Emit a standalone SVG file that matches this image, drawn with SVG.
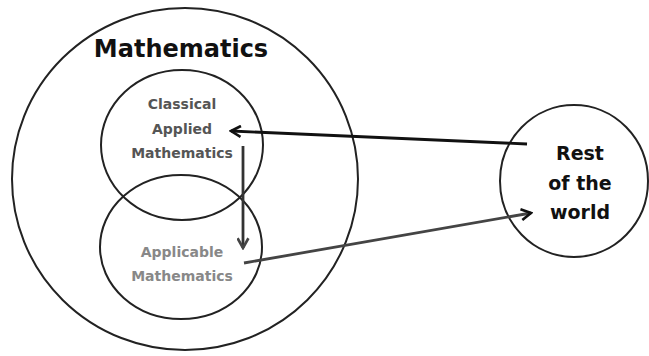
<svg xmlns="http://www.w3.org/2000/svg" width="649" height="356" viewBox="0 0 649 356">
<defs>
<style>
.c{fill:none;stroke:#222;stroke-width:2}
.t{font-family:"DejaVu Sans",sans-serif;font-weight:bold;text-anchor:middle}
.a{fill:none;stroke-width:2.8}
</style>
<marker id="ah" viewBox="0 0 12 12" refX="10" refY="6" markerWidth="13" markerHeight="13" markerUnits="userSpaceOnUse" orient="auto">
<path d="M1,1 L10,6 L1,11" fill="none" stroke="#111" stroke-width="2.4"/>
</marker>
<marker id="ahg" viewBox="0 0 12 12" refX="10" refY="6" markerWidth="13" markerHeight="13" markerUnits="userSpaceOnUse" orient="auto">
<path d="M1,1 L10,6 L1,11" fill="none" stroke="#444" stroke-width="2.4"/>
</marker>
</defs>
<rect width="649" height="356" fill="#fff"/>
<g id="mathematics">
<ellipse class="c" cx="185" cy="179" rx="173" ry="171"/>
<text class="t" x="181" y="57" font-size="24" fill="#111">Mathematics</text>
</g>
<g id="classical">
<ellipse class="c" cx="182" cy="145" rx="81" ry="75"/>
<text class="t" x="182" y="109" font-size="14" fill="#555">Classical</text>
<text class="t" x="182" y="134" font-size="14" fill="#555">Applied</text>
<text class="t" x="182" y="158" font-size="14" fill="#555">Mathematics</text>
</g>
<g id="applicable">
<ellipse class="c" cx="181" cy="247" rx="81" ry="72" stroke="#444"/>
<text class="t" x="182" y="257" font-size="14" fill="#888">Applicable</text>
<text class="t" x="182" y="281" font-size="14" fill="#888">Mathematics</text>
</g>
<g id="rest">
<ellipse class="c" cx="574" cy="181" rx="74" ry="76"/>
<text class="t" x="580" y="160" font-size="19" fill="#111">Rest</text>
<text class="t" x="580" y="190" font-size="19" fill="#111">of the</text>
<text class="t" x="580" y="219" font-size="19" fill="#111">world</text>
</g>
<g id="connectors">
<line class="a" x1="527" y1="144" x2="231" y2="131" stroke="#111" marker-end="url(#ah)"/>
<line class="a" x1="243" y1="146" x2="243" y2="248" stroke="#333" marker-end="url(#ahg)"/>
<line class="a" x1="244" y1="263" x2="531" y2="213" stroke="#444" marker-end="url(#ah)"/>
</g>
</svg>
